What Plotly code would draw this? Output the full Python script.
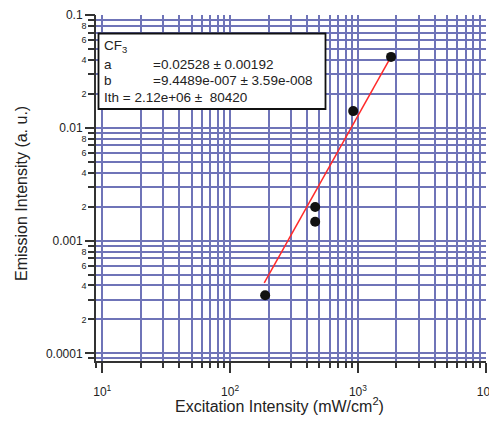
import plotly.graph_objects as go

# ---- data ----
excitation = [188, 463, 463, 918, 1816]          # mW/cm^2
emission = [3.28e-4, 1.99e-3, 1.47e-3, 1.41e-2, 4.27e-2]  # a.u.
fit_x = [185, 1840]
fit_y = [4.22e-4, 0.0440]

x_tick_vals = [10, 100, 1000, 10000]
x_tick_text = ["10<sup>1</sup>", "10<sup>2</sup>", "10<sup>3</sup>", "10<sup>4</sup>"]
y_decade_vals = [1e-4, 1e-3, 1e-2, 1e-1]
y_decade_text = ["0.0001", "0.001", "0.01", "0.1"]
y_minor_vals = [m * 10.0 ** e for e in (-4, -3, -2) for m in (2, 4, 6, 8)]
y_minor_text = [str(m) for e in (-4, -3, -2) for m in (2, 4, 6, 8)]

fit_lines = ["CF<sub>3</sub>", "a", "b", "Ith = 2.12e+06 \u00b1  80420"]
fit_values = ["", "=0.02528 \u00b1 0.00192", "=9.4489e-007 \u00b1 3.59e-008", ""]

# ---- layout geometry (pixels); page body has an 8px default margin ----
OFF = 8
W, H = 497 - OFF, 425 - OFF
L, R, T, B = 96 - OFF, 11, 15 - OFF, 64
PW, PH = W - L - R, H - T - B

def px(x):
    return (x - OFF - L) / PW

def py(y):
    return (H - B - (y - OFF)) / PH

GRID = "#6f74b8"
AX = "#333333"
FONT = "Arial, Liberation Sans, sans-serif"
YR = [-4.068, -0.998]

fig = go.Figure()
fig.add_trace(go.Scatter(x=fit_x, y=fit_y, mode="lines",
                         line=dict(color="#ff2a2a", width=1.5), showlegend=False))
fig.add_trace(go.Scatter(x=excitation, y=emission, mode="markers",
                         marker=dict(color="#111111", size=10, symbol="circle"),
                         showlegend=False))
# invisible companion trace so the decade-label axis is drawn
fig.add_trace(go.Scatter(x=excitation, y=emission, yaxis="y2", mode="markers",
                         marker=dict(opacity=0), hoverinfo="skip", showlegend=False))

fig.update_layout(
    width=W, height=H,
    margin=dict(l=L, r=R, t=T, b=B, pad=0, autoexpand=False),
    paper_bgcolor="white", plot_bgcolor="white",
    font=dict(family=FONT, color="#222222"),
    xaxis=dict(
        type="log", range=[0.951, 4.002], automargin=False,
        tickmode="array", tickvals=x_tick_vals, ticktext=x_tick_text,
        ticks="outside", ticklen=10, tickwidth=1.5, tickcolor=AX,
        tickfont=dict(size=12, color="#222222"), ticklabelstandoff=9,
        ticklabeloverflow="allow",
        showline=True, linecolor=AX, linewidth=1.5,
        showgrid=True, gridcolor=GRID, gridwidth=1.5, zeroline=False,
        minor=dict(dtick="D1", ticks="outside", ticklen=5, tickwidth=1.5,
                   tickcolor=AX, showgrid=True, gridcolor=GRID, gridwidth=1.5),
    ),
    yaxis=dict(
        type="log", range=YR, automargin=False,
        tickmode="array", tickvals=y_minor_vals, ticktext=y_minor_text,
        ticks="outside", ticklen=6, tickwidth=1.5, tickcolor=AX,
        tickfont=dict(size=9, color="#222222"), ticklabeloverflow="allow",
        showline=True, linecolor=AX, linewidth=1.5,
        showgrid=True, gridcolor=GRID, gridwidth=1.5, zeroline=False,
        minor=dict(dtick="D1", ticks="outside", ticklen=6, tickwidth=1.5,
                   tickcolor=AX, showgrid=True, gridcolor=GRID, gridwidth=1.5),
    ),
    yaxis2=dict(
        type="log", range=YR, overlaying="y", side="left", anchor="x",
        automargin=False,
        tickmode="array", tickvals=y_decade_vals, ticktext=y_decade_text,
        ticks="outside", ticklen=10, tickwidth=1.5, tickcolor=AX,
        tickfont=dict(size=12, color="#222222"), ticklabeloverflow="allow",
        showline=False, showgrid=True, gridcolor=GRID, gridwidth=1.5, zeroline=False,
    ),
)

# fit results box
fig.add_shape(type="rect", xref="paper", yref="paper",
              x0=px(98.5), x1=px(325.5), y0=py(33.5), y1=py(109),
              line=dict(color="#111111", width=1.8), fillcolor="white", layer="above")

row_y = [46, 65, 80, 97]
for lab, val, yy in zip(fit_lines, fit_values, row_y):
    fig.add_annotation(xref="paper", yref="paper", x=px(102), y=py(yy),
                       xanchor="left", yanchor="middle", text=lab, showarrow=False,
                       font=dict(size=13.5, family=FONT, color="#222222"))
    if val:
        fig.add_annotation(xref="paper", yref="paper", x=px(151), y=py(yy),
                           xanchor="left", yanchor="middle", text=val, showarrow=False,
                           font=dict(size=13.5, family=FONT, color="#222222"))

# axis titles
fig.add_annotation(xref="paper", yref="paper", x=px(22), y=py(194),
                   xanchor="center", yanchor="middle", textangle=-90,
                   text="Emission Intensity (a. u.)", showarrow=False,
                   font=dict(size=16, family=FONT, color="#222222"))
fig.add_annotation(xref="paper", yref="paper", x=px(279), y=py(405),
                   xanchor="center", yanchor="middle",
                   text="Excitation Intensity (mW/cm<sup>2</sup>)", showarrow=False,
                   font=dict(size=16, family=FONT, color="#222222"))

fig.write_html("out.html")
